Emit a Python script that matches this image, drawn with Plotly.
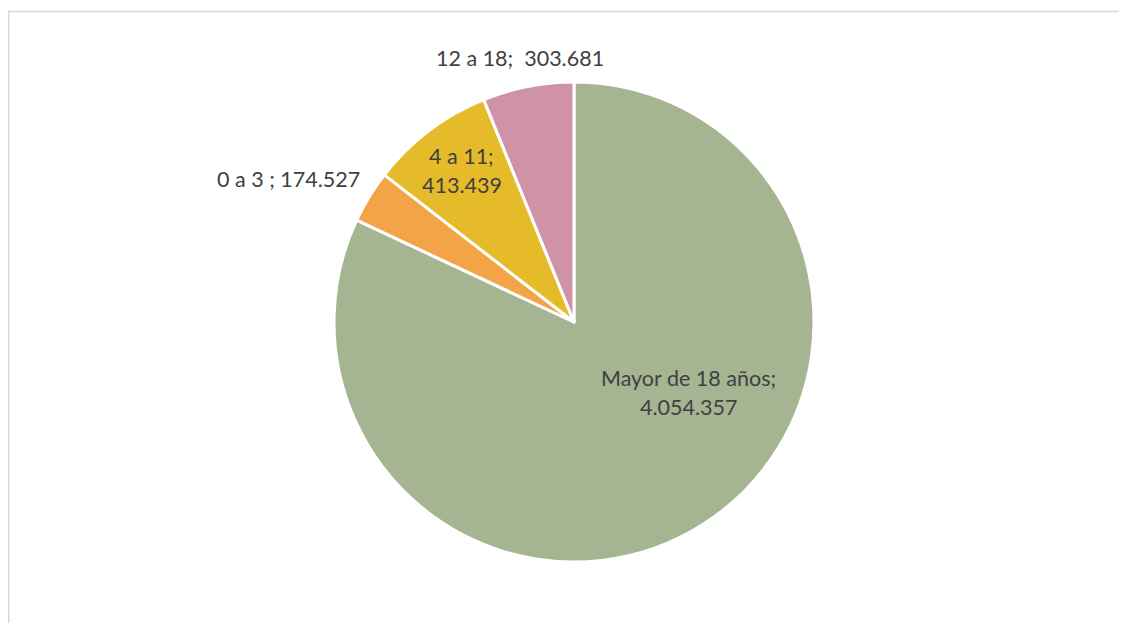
import plotly.graph_objects as go

labels = ["Mayor de 18 años", "0 a 3 ", "4 a 11", "12 a 18"]
values = [4054357, 174527, 413439, 303681]
colors = ["#A5B592", "#F3A447", "#E5BB29", "#D092A7"]

# the page adds an 8px body margin; work in figure coordinates
OFF = 8
W, H = 1127 - OFF, 623 - OFF
cx, cy, r = 574 - OFF, 322 - OFF, 240

def fmt(v):
    return f"{v:,}".replace(",", ".")

fig = go.Figure(go.Pie(
    labels=labels, values=values, sort=False, direction="clockwise", rotation=0,
    marker=dict(colors=colors, line=dict(color="white", width=3)),
    textinfo="none", hoverinfo="label+value", showlegend=False,
    domain=dict(x=[(cx - r) / W, (cx + r) / W], y=[1 - (cy + r) / H, 1 - (cy - r) / H]),
))

label_text = [
    [f"{labels[0]};", fmt(values[0])],
    [f"{labels[1]}; {fmt(values[1])}"],
    [f"{labels[2]};", fmt(values[2])],
    [f"{labels[3]};  {fmt(values[3])}"],
]
label_pos = [(688, 378), (288, 179), (462, 156), (520, 58)]
line_gap = 28.5

annotations = []
for lines, (x, y) in zip(label_text, label_pos):
    for i, t in enumerate(lines):
        annotations.append(dict(
            text=t, x=(x - OFF) / W, y=1 - (y - OFF + i * line_gap) / H,
            xref="paper", yref="paper",
            showarrow=False, xanchor="center", yanchor="middle",
            font=dict(family="Lato", size=21.5, color="#404040"),
        ))

fig.update_layout(
    width=W, height=H, margin=dict(l=0, r=0, t=0, b=0),
    paper_bgcolor="white", plot_bgcolor="white",
    annotations=annotations,
    shapes=[dict(type="rect", xref="paper", yref="paper",
                 x0=0.75 / W, x1=1.05, y0=-0.05, y1=1 - 3.5 / H,
                 line=dict(color="#D9D9D9", width=1.5), layer="below")],
)
fig.write_html("out.html")
